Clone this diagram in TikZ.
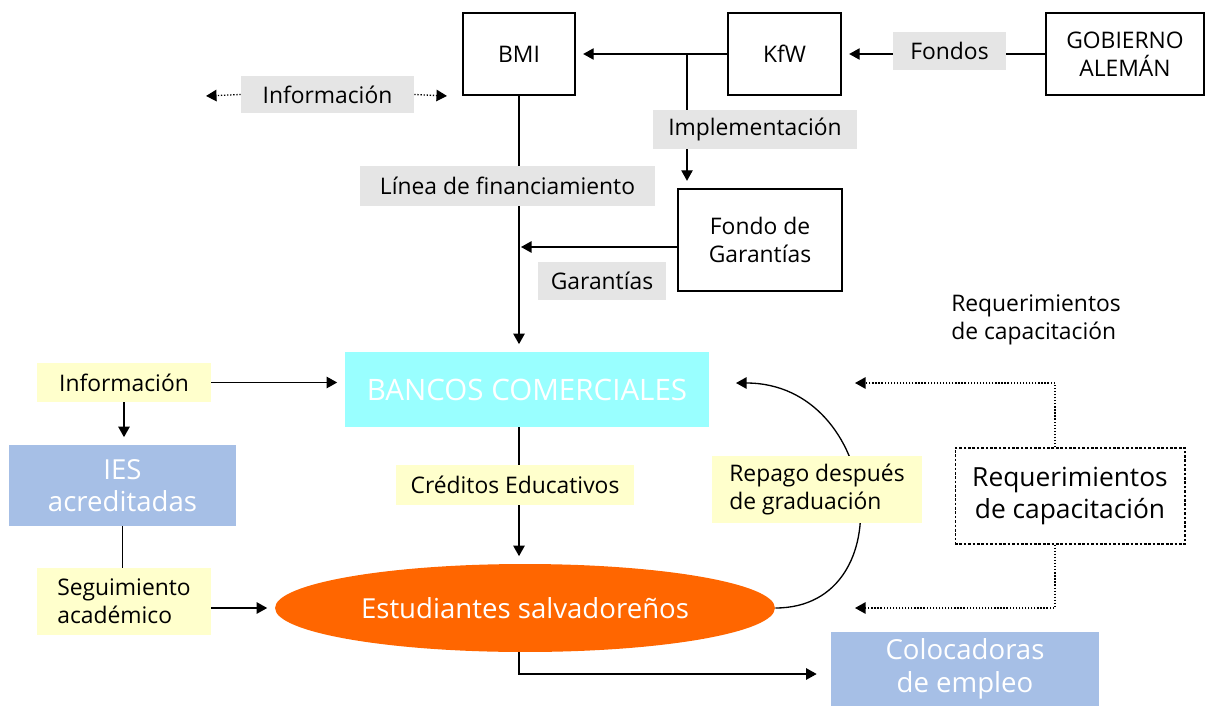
\documentclass[tikz,border=0pt]{standalone}
\usepackage{fontspec}
\setmainfont{Open Sans}
\usetikzlibrary{arrows.meta,shapes.geometric}
\definecolor{gris}{HTML}{E5E5E5}
\definecolor{amarillo}{HTML}{FFFFCC}
\definecolor{cian}{HTML}{99FFFF}
\definecolor{azul}{HTML}{A6BFE6}
\definecolor{naranja}{HTML}{FF6600}
\begin{document}
\begin{tikzpicture}[x=0.02cm,y=-0.02cm,
>={Triangle[length=6pt,width=6.5pt]},
every node/.style={font=\fontsize{13}{16}\selectfont},
caja/.style={draw,line width=0.8pt,inner sep=0pt,align=center},
etiq/.style={fill=gris,inner sep=0pt,align=center},
nota/.style={fill=amarillo,inner sep=0pt,align=center},
llena/.style={inner sep=0pt,align=center,text=white,font=\fontsize{15.7}{18.5}\selectfont},
linea/.style={line width=0.75pt},
flecha/.style={->,line width=0.75pt,shorten >=0.15cm}]
\useasboundingbox (0,0) rectangle (1206,706);
\node[caja,minimum width=2.24cm,minimum height=1.64cm] (bmi) at (519,54) {BMI};
\node[caja,minimum width=2.26cm,minimum height=1.64cm] (kfw) at (784.5,54) {KfW};
\node[caja,minimum width=3.16cm,minimum height=1.64cm] (gob) at (1125,54) {GOBIERNO\\ALEMÁN};
\node[caja,minimum width=3.28cm,minimum height=2.04cm] (fondo) at (760,240) {Fondo de\\Garantías};
\node[llena,fill=cian,minimum width=7.28cm,minimum height=1.5cm,font=\fontsize{16.8}{19}\selectfont] (bancos) at (527,389.5) {BANCOS COMERCIALES};
\node[llena,fill=azul,minimum width=4.54cm,minimum height=1.62cm] (ies) at (122.5,485.5) {IES\\acreditadas};
\node[llena,ellipse,fill=naranja,minimum width=10cm,minimum height=1.76cm] (est) at (525,608) {Estudiantes salvadoreños};
\node[llena,fill=azul,minimum width=5.36cm,minimum height=1.48cm] (coloc) at (965,669) {Colocadoras\\de empleo};
\node[caja,line width=0.6pt,dash pattern=on 1.5pt off 1pt,minimum width=4.6cm,minimum height=1.92cm,font=\fontsize{15}{18}\selectfont] (req) at (1070,496) {Requerimientos\\de capacitación};
\node[align=left] (reqtxt) at (1036,320) {Requerimientos\\de capacitación};
\coordinate (rama) at (687,54);
\coordinate (gtip) at (521,247);
\coordinate (arco) at (736,383);
\coordinate (r1) at (855,383);
\coordinate (r2) at (855,608);
\coordinate (il) at (206,96);
\coordinate (ir) at (447,96);
\draw[flecha] (gob) -- (kfw);
\draw[flecha] (kfw) -- (bmi);
\draw[flecha] (rama) -- (rama |- fondo.north);
\draw[flecha] (bmi) -- (bmi |- bancos.north);
\draw[->,linea] (fondo.west |- gtip) -- (gtip);
\draw[flecha] (bancos.south -| bmi) -- (est.north -| bmi);
\draw[->,linea,shorten >=0.28cm] (est.south -| bmi) |- ([yshift=-0.1cm]coloc.west);
\draw[->,linea] (est.east) .. controls (905,608) and (880,383) .. (arco);
\draw[->,linea,densely dotted] ([xshift=-0.3cm]req.north) |- (r1);
\draw[->,linea,densely dotted] ([xshift=-0.3cm]req.south) |- (r2);
\node[etiq,minimum width=2.26cm,minimum height=0.76cm] (fondos) at (949.5,51) {Fondos};
\node[etiq,minimum width=3.46cm,minimum height=0.74cm] (infoarr) at (327.5,94.5) {Información};
\node[etiq,minimum width=4.08cm,minimum height=0.78cm] (impl) at (755,129.5) {Implementación};
\node[etiq,minimum width=5.9cm,minimum height=0.8cm] (lfin) at (507.5,186) {Línea de financiamiento};
\node[etiq,minimum width=2.56cm,minimum height=0.76cm] (garant) at (602,281) {Garantías};
\node[nota,minimum width=3.48cm,minimum height=0.78cm] (info) at (124,382.5) {Información};
\node[nota,align=left,minimum width=3.48cm,minimum height=1.34cm] (segui) at (124,601.5) {Seguimiento\\académico};
\node[nota,minimum width=4.76cm,minimum height=0.8cm] (cred) at (515,485) {Créditos Educativos};
\node[nota,align=left,minimum width=4.2cm,minimum height=1.34cm] (repago) at (817,489.5) {Repago después\\de graduación};
\draw[flecha] (info) -- (info -| bancos.west);
\draw[flecha] (info) -- (info |- ies.north);
\draw[linea] (ies) -- (ies |- segui.north);
\draw[flecha] (segui.east |- est) -- (est.west);
\draw[->,linea,densely dotted] (infoarr.west) -- (il);
\draw[->,linea,densely dotted] (infoarr.east) -- (ir);
\end{tikzpicture}
\end{document}
